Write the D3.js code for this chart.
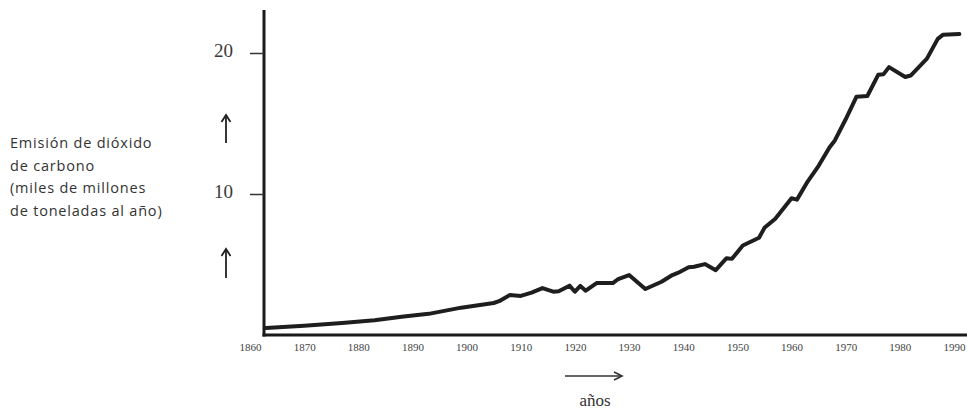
<!DOCTYPE html>
<html><head><meta charset="utf-8">
<script src="https://cdn.jsdelivr.net/npm/d3@7"></script>
<style>
body{margin:0;background:#fff;}
svg{display:block;}
</style>
</head><body>
<svg id="c" width="967" height="410"></svg>
<script>
const years = [1862,1870,1877,1883,1888,1893,1899,1905,1906,1908,1910,1912,1914,1916,1917,1919,1920,1921,1922,1924,1927,1928,1930,1933,1936,1938,1939,1941,1942,1944,1946,1948,1949,1951,1954,1955,1957,1960,1961,1963,1965,1967,1968,1970,1972,1974,1976,1977,1978,1981,1982,1985,1987,1988,1991];
const emissions = [0.5,0.65,0.85,1.05,1.3,1.5,1.94,2.27,2.4,2.84,2.77,3.0,3.33,3.07,3.1,3.5,3.07,3.48,3.14,3.68,3.68,3.97,4.25,3.26,3.78,4.25,4.4,4.8,4.84,5.03,4.6,5.45,5.4,6.35,6.9,7.6,8.25,9.7,9.6,10.9,12.0,13.3,13.8,15.3,16.9,16.95,18.45,18.5,19.0,18.3,18.4,19.6,21.0,21.3,21.35];
const xTicks = [1860,1870,1880,1890,1900,1910,1920,1930,1940,1950,1960,1970,1980,1990];
const yTicks = [10,20];
const titleLines = ["Emisión de dióxido","de carbono","(miles de millones","de toneladas al año)"];
const xLabel = "años";

const svg = d3.select("#c");
const x = d3.scaleLinear().domain([1860,1990]).range([250,954]);
const y = d3.scaleLinear().domain([0,20]).range([335,53]);
const axisX0 = 264, axisY0 = 335;

// y axis line
svg.append("line").attr("x1",axisX0).attr("x2",axisX0).attr("y1",10).attr("y2",axisY0+1.5)
  .attr("stroke","#1a1a1a").attr("stroke-width",3);
// x axis line
svg.append("line").attr("x1",axisX0-1.5).attr("x2",967).attr("y1",axisY0).attr("y2",axisY0)
  .attr("stroke","#1a1a1a").attr("stroke-width",3);

// y ticks
const ya = svg.append("g").attr("transform",`translate(${axisX0},0)`)
  .call(d3.axisLeft(y).tickValues(yTicks).tickSize(14).tickPadding(17).tickFormat(d3.format("d")));
ya.select(".domain").remove();
ya.selectAll(".tick line").attr("stroke","#333").attr("stroke-width",1.5);
ya.selectAll(".tick text").attr("font-family","'Liberation Serif', serif").attr("font-size",19).attr("fill","#3a3a3a").attr("dy","0.2em");

// x ticks
const xa = svg.append("g").attr("transform",`translate(0,${axisY0})`)
  .call(d3.axisBottom(x).tickValues(xTicks).tickSize(0).tickPadding(8).tickFormat(d3.format("d")));
xa.select(".domain").remove();
xa.selectAll(".tick text").attr("font-family","'Liberation Serif', serif").attr("font-size",11).attr("fill","#444");

// data line
const data = years.map((yr,i)=>({yr, v: emissions[i]}));
svg.append("path").datum(data)
  .attr("fill","none").attr("stroke","#1e1e1e").attr("stroke-width",4)
  .attr("stroke-linejoin","round").attr("stroke-linecap","round")
  .attr("d", d3.line().x(d=>Math.max(x(d.yr),axisX0+2)).y(d=>y(d.v)));

// up arrows
function upArrow(cx, y1, y2){
  svg.append("line").attr("x1",cx).attr("x2",cx).attr("y1",y1+1).attr("y2",y2).attr("stroke","#222").attr("stroke-width",1.8);
  svg.append("path").attr("d",`M${cx-4.5},${y1+7} L${cx},${y1} L${cx+4.5},${y1+7}`).attr("fill","none").attr("stroke","#222").attr("stroke-width",1.8);
}
upArrow(226,115,143);
upArrow(226,249,278);

// right arrow
svg.append("line").attr("x1",565).attr("x2",621).attr("y1",376).attr("y2",376).attr("stroke","#333").attr("stroke-width",1.6);
svg.append("path").attr("d","M614,372 L622,376 L614,380").attr("fill","none").attr("stroke","#333").attr("stroke-width",1.6);

svg.append("text").attr("x",595).attr("y",406).attr("text-anchor","middle")
  .attr("font-family","'Liberation Serif', serif").attr("font-size",17).attr("fill","#333").text(xLabel);

// title
const t = svg.append("text").attr("font-family","'Open Sans', sans-serif").attr("font-size",14.5)
  .attr("letter-spacing","0.8").attr("fill","#333");
titleLines.forEach((s,i)=>{
  t.append("tspan").attr("x",10).attr("y",148 + i*22.5).text(s);
});
</script>
</body></html>
